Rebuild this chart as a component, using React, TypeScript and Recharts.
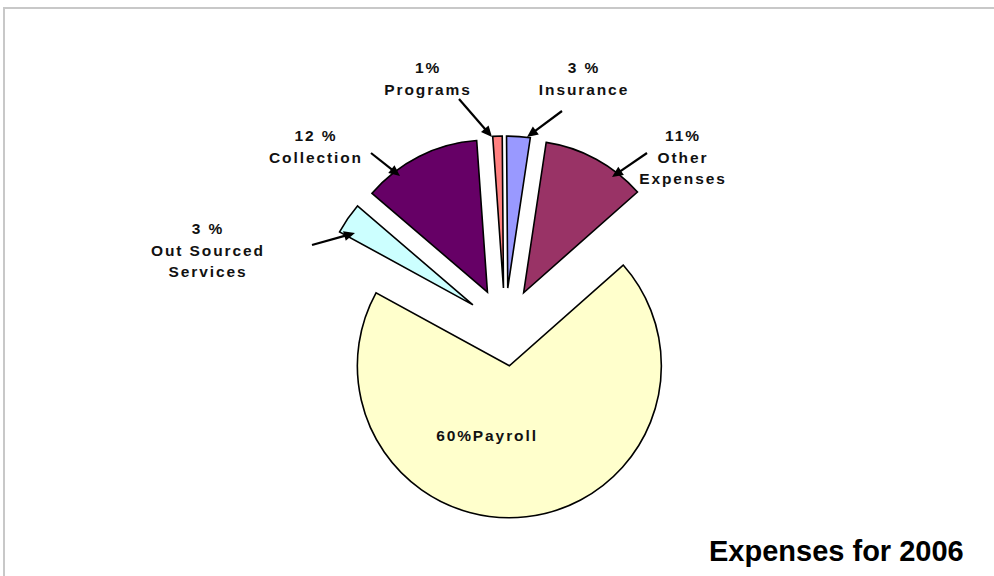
import React from "react";
import { PieChart, Pie, Cell } from "recharts";

const categories = ["Other Expenses", "Insurance", "Programs", "Collection", "Out Sourced Services", "Payroll"];
const values = [11.1, 2.5, 1.0, 12.6, 3.3, 69.5];
const pctLabels = ["11%", "3 %", "1%", "12 %", "3 %", "60%"];
const colors = ["#993366", "#9999FF", "#FF8080", "#660066", "#CCFFFF", "#FFFFCC"];

const data = categories.map((name, i) => ({ name, value: values[i] }));

const START = 41.5;
const CX = 505;
const CY = 327;
const R = 152;
const EXPLODE = 39;

const total = values.reduce((a, b) => a + b, 0);
const midAngles: number[] = [];
{
  let cum = 0;
  values.forEach((v) => {
    midAngles.push(START + ((cum + v / 2) / total) * 360);
    cum += v;
  });
}

// Label annotation layout (text lines and leader arrows)
type Lay = { lines: string[]; x: number; y: number; arrow?: [number, number, number, number] };
const layout: Lay[] = [
  { lines: ["11%", "Other", "Expenses"], x: 683, y: 141, arrow: [647, 153, 612, 177] },
  { lines: ["3 %", "Insurance"], x: 584, y: 73, arrow: [562, 111, 527, 137] },
  { lines: ["1%", "Programs"], x: 428, y: 73, arrow: [459, 99, 492, 137] },
  { lines: ["12 %", "Collection"], x: 316, y: 141, arrow: [371, 153, 400, 176] },
  { lines: ["3 %", "Out Sourced", "Services"], x: 208, y: 234, arrow: [312, 245, 355, 233] },
  { lines: ["60%Payroll"], x: 487, y: 441 },
];

const Arrow = ({ a }: { a: [number, number, number, number] }) => {
  const [x1, y1, x2, y2] = a;
  const dx = x2 - x1;
  const dy = y2 - y1;
  const L = Math.sqrt(dx * dx + dy * dy);
  const ux = dx / L;
  const uy = dy / L;
  const hl = 11;
  const hw = 5;
  const bx = x2 - ux * hl;
  const by = y2 - uy * hl;
  const pts = `${x2},${y2} ${bx - uy * hw},${by + ux * hw} ${bx + uy * hw},${by - ux * hw}`;
  return (
    <g>
      <line x1={x1} y1={y1} x2={bx + ux * 2} y2={by + uy * 2} stroke="#000" strokeWidth={2.2} />
      <polygon points={pts} fill="#000" />
    </g>
  );
};

const renderLabel = (props: any) => {
  const i = props.index;
  const lay = layout[i];
  if (!lay) return null;
  const lines = i === 5 ? [pctLabels[5] + categories[5]] : lay.lines;
  return (
    <g key={`lab-${i}`}>
      {lines.map((t, k) => (
        <text
          key={k}
          x={lay.x}
          y={lay.y + k * 21.5}
          textAnchor="middle"
          fontFamily="'Liberation Sans', Arial, sans-serif"
          fontWeight="bold"
          fontSize={15.5}
          letterSpacing={1.9}
          fill="#111"
        >
          {t}
        </text>
      ))}
      {lay.arrow && <Arrow a={lay.arrow} />}
    </g>
  );
};

export default function App() {
  return (
    <div style={{ position: "absolute", left: 0, top: 0, width: 994, height: 576, background: "#fff", overflow: "hidden" }}>
      <div
        style={{
          position: "absolute",
          left: 3,
          top: 7,
          width: 1000,
          height: 600,
          borderTop: "2px solid #c8c8c8",
          borderLeft: "2px solid #c8c8c8",
        }}
      />
      <div style={{ position: "absolute", left: 0, top: 0 }}>
        <PieChart width={994} height={576} margin={{ top: 0, right: 0, bottom: 0, left: 0 }}>
          <Pie
            data={data}
            dataKey="value"
            nameKey="name"
            cx={CX}
            cy={CY}
            outerRadius={R}
            startAngle={START}
            endAngle={START + 360}
            isAnimationActive={false}
            label={renderLabel}
            labelLine={false}
            stroke="#000"
            strokeWidth={1.6}
          >
            {data.map((d, i) => {
              const m = (midAngles[i] * Math.PI) / 180;
              const tx = EXPLODE * Math.cos(m);
              const ty = -EXPLODE * Math.sin(m);
              return (
                <Cell
                  key={d.name}
                  fill={colors[i]}
                  stroke="#000"
                  strokeWidth={1.6}
                  transform={`translate(${tx.toFixed(2)},${ty.toFixed(2)})`}
                />
              );
            })}
          </Pie>
        </PieChart>
      </div>
      <div
        style={{
          position: "absolute",
          left: 709,
          top: 534,
          fontFamily: "'Liberation Sans', Arial, sans-serif",
          fontWeight: "bold",
          fontSize: 29,
          lineHeight: "34px",
          color: "#000",
          whiteSpace: "nowrap",
        }}
      >
        Expenses for 2006
      </div>
    </div>
  );
}
